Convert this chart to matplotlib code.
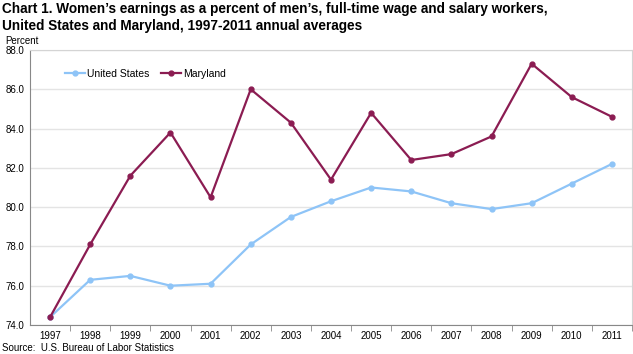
import matplotlib
matplotlib.use("Agg")
from matplotlib import pyplot as plt

plt.rcParams["font.family"] = ["Liberation Sans", "DejaVu Sans"]

years = ["1997", "1998", "1999", "2000", "2001", "2002", "2003", "2004",
         "2005", "2006", "2007", "2008", "2009", "2010", "2011"]
united_states = [74.4, 76.3, 76.5, 76.0, 76.1, 78.1, 79.5, 80.3,
                 81.0, 80.8, 80.2, 79.9, 80.2, 81.2, 82.2]
maryland = [74.4, 78.1, 81.6, 83.8, 80.5, 86.0, 84.3, 81.4,
            84.8, 82.4, 82.7, 83.6, 87.3, 85.6, 84.6]

us_color = "#8ec4f7"
md_color = "#8b1c52"

fig = plt.figure(figsize=(6.33, 3.54), dpi=100)
ax = fig.add_axes([30 / 633, 1 - 325 / 354, 602 / 633, 275 / 354])

x = list(range(len(years)))
ax.plot(x, united_states, "-o", color=us_color, lw=1.6, ms=3.5, label="United States")
ax.plot(x, maryland, "-o", color=md_color, lw=1.6, ms=3.5, label="Maryland")

ax.set_xlim(-0.5, len(years) - 0.5)
ax.set_ylim(74, 88)
ax.set_yticks([74, 76, 78, 80, 82, 84, 86, 88])
ax.set_yticklabels(["%.1f" % v for v in ax.get_yticks()], fontsize=7)
ax.set_xticks(x)
ax.set_xticklabels(years, fontsize=7)
ax.set_xticks([i + 0.5 for i in x], minor=True)
ax.tick_params(axis="x", which="major", length=0, pad=4)
ax.tick_params(axis="x", which="minor", length=4, color="#888888")
ax.tick_params(axis="y", length=0, pad=4)
ax.grid(axis="y", color="#e4e4e4", lw=1)
ax.set_axisbelow(True)

for side in ["top", "right"]:
    ax.spines[side].set_color("#d4d4d4")
for side in ["left", "bottom"]:
    ax.spines[side].set_color("#888888")

ax.legend(loc="upper left", bbox_to_anchor=(0.043, 0.965), ncol=2, frameon=False,
          fontsize=7.5, handlelength=1.9, handletextpad=0.15, columnspacing=1.2)

fig.text(0.003, 0.995, "Chart 1. Women\u2019s earnings as a percent of men\u2019s, full-time wage and salary workers,\n"
         "United States and Maryland, 1997-2011 annual averages",
         fontsize=9.8, fontweight="bold", va="top", ha="left", linespacing=1.3)
fig.text(5 / 633, 1 - 41 / 354, "Percent", fontsize=7, va="center", ha="left")
fig.text(2 / 633, 1 - 348 / 354, "Source:  U.S. Bureau of Labor Statistics", fontsize=7,
         va="center", ha="left")

fig.savefig("out.png", dpi=100)
